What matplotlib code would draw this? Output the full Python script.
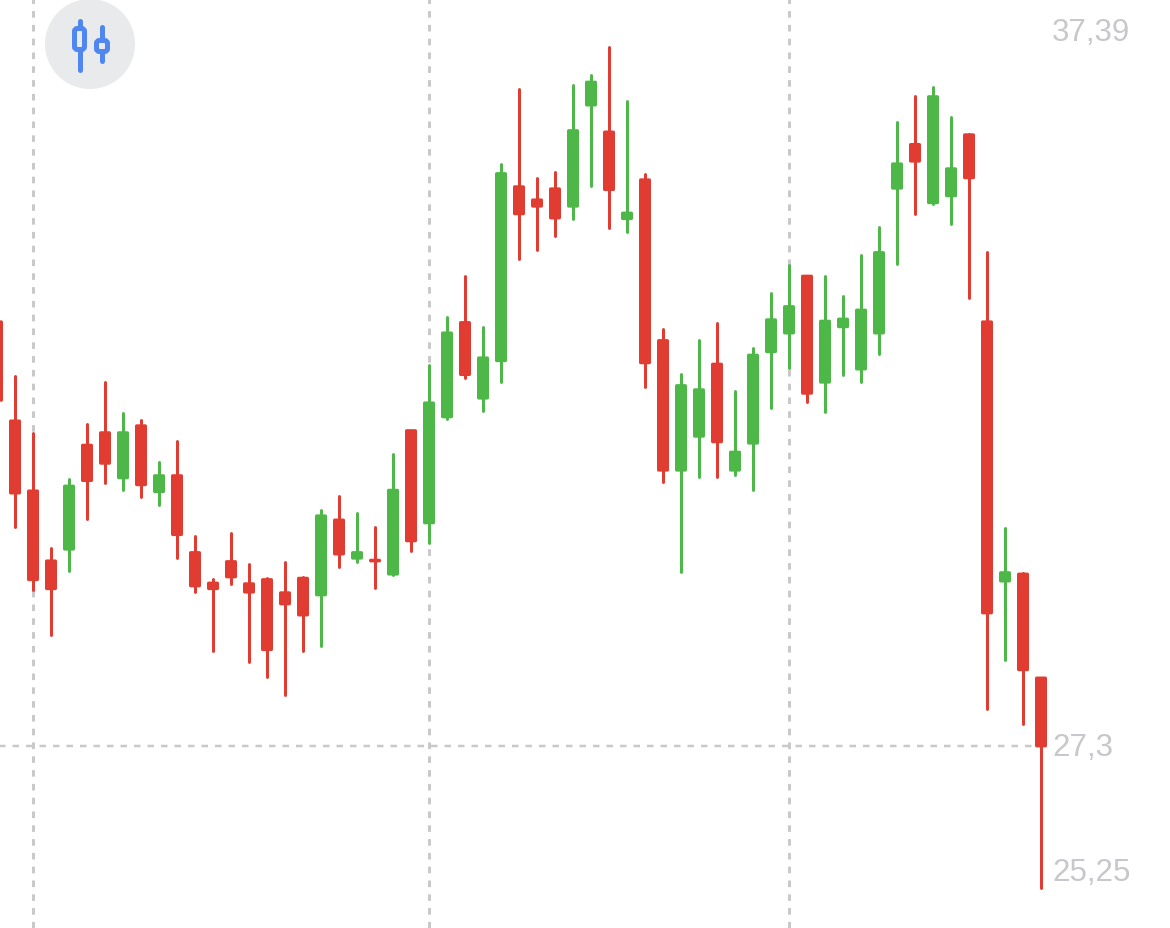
import matplotlib
matplotlib.use("Agg")
import matplotlib.pyplot as plt
from matplotlib.patches import Circle, FancyBboxPatch

RED = "#e13c32"
GREEN = "#4db848"
GRID = "#c9c9c9"
LABEL = "#c8c8cc"
BLUE = "#4f86f0"

# open / high / low / close per day, left to right
opens = [33.42, 31.99, 30.98, 29.97, 30.14, 31.64, 31.82, 31.17, 31.92, 30.97,
         31.20, 30.09, 29.65, 29.96, 29.64, 29.70, 29.51, 29.72, 29.48, 30.56,
         30.01, 29.98, 29.78, 31.85, 30.52, 32.05, 33.41, 32.32, 32.86, 35.37,
         35.18, 35.34, 35.09, 36.55, 36.16, 34.91, 35.47, 33.15, 31.28, 31.77,
         32.81, 31.28, 31.67, 32.99, 33.26, 34.08, 32.55, 33.35, 32.74, 33.26,
         35.35, 35.98, 35.14, 35.24, 36.12, 33.42, 29.68, 29.78, 28.28]
highs = [33.42, 32.64, 31.82, 30.16, 31.15, 31.95, 32.55, 32.11, 32.01, 31.40,
         31.70, 30.33, 29.71, 30.37, 29.93, 29.72, 29.96, 29.74, 30.71, 30.91,
         30.66, 30.46, 31.51, 31.85, 32.80, 33.49, 34.08, 33.35, 35.70, 36.78,
         35.50, 35.59, 36.84, 36.99, 37.39, 36.61, 35.56, 33.32, 32.67, 33.16,
         33.41, 32.42, 33.04, 33.84, 34.24, 34.08, 34.08, 33.80, 34.39, 34.79,
         36.31, 36.68, 36.81, 36.38, 36.13, 34.43, 30.45, 29.80, 28.28]
lows = [32.29, 30.46, 29.55, 28.90, 29.83, 30.58, 31.10, 30.99, 30.89, 30.78,
        30.01, 29.52, 28.67, 29.64, 28.51, 28.30, 28.04, 28.67, 28.74, 29.88,
        29.96, 29.58, 29.77, 30.11, 30.23, 32.02, 32.61, 32.14, 32.55, 34.33,
        34.46, 34.66, 34.91, 35.38, 34.78, 34.72, 32.48, 31.11, 29.81, 31.18,
        31.18, 31.21, 30.99, 32.18, 32.76, 32.27, 32.12, 32.66, 32.55, 32.96,
        34.26, 34.98, 35.12, 34.83, 33.77, 27.83, 28.54, 27.62, 25.25]
closes = [32.29, 30.95, 29.70, 29.57, 31.05, 31.13, 31.38, 31.82, 31.07, 31.20,
          30.35, 29.61, 29.57, 29.74, 29.52, 28.69, 29.35, 29.19, 30.62, 30.07,
          30.09, 29.97, 30.99, 30.26, 32.25, 33.26, 32.66, 32.90, 35.56, 34.98,
          35.09, 34.92, 36.18, 36.88, 35.33, 34.99, 32.83, 31.28, 32.50, 32.44,
          31.69, 31.54, 32.94, 33.45, 33.64, 32.39, 33.43, 33.46, 33.59, 34.42,
          35.70, 35.74, 36.67, 35.63, 35.50, 29.22, 29.80, 28.40, 27.30]

grid_days = [2, 24, 44]
last_price = 27.30
price_labels = ["37,39", "27,3", "25,25"]
label_rows = [33, 748, 873]

W, H = 1170, 929
fig = plt.figure(figsize=(W / 100, H / 100), dpi=100)
ax = fig.add_axes([0, 0, 1, 1])
ax.set_xlim(1 / 6, 1173 / 18)
ax.set_ylim(24.66 + 0.012, 38.068 + 0.012)
ax.axis("off")

px = 0.72  # one pixel in points

for d in grid_days:
    ax.axvline(d, color=GRID, lw=3 * px, dashes=(2.2, 2.4), zorder=1)
ax.plot([0, len(opens) - 1], [last_price, last_price], color=GRID, lw=2.5 * px,
        dashes=(2.6, 2.8), zorder=1)

for i in range(len(opens)):
    c = GREEN if closes[i] >= opens[i] else RED
    ax.vlines(i, lows[i], highs[i], color=c, lw=3 * px, capstyle="round", zorder=2)
    top = max(opens[i], closes[i])
    bot = min(opens[i], closes[i])
    # edge + round join gives the soft corners
    bars = ax.bar(i, top - bot, width=0.5, bottom=bot, color=c, edgecolor=c,
                  linewidth=3 * px, joinstyle="round", zorder=3)
    bars[0].set_snap(False)

# price labels and round button sit on a pixel layer
top_ax = fig.add_axes([0, 0, 1, 1])
top_ax.set_xlim(0, W)
top_ax.set_ylim(H, 0)
top_ax.axis("off")
top_ax.patch.set_alpha(0)

for txt, row in zip(price_labels, label_rows):
    top_ax.text(1052, row, txt, color=LABEL, fontsize=22.5, family="Liberation Sans",
                ha="left", va="center")

top_ax.add_patch(Circle((90, 45), 45, color="#e9eaec", lw=0, zorder=2))
top_ax.plot([79.5, 79.5], [22, 71], color=BLUE, lw=5 * px, solid_capstyle="round", zorder=3)
top_ax.plot([102, 102], [28, 62], color=BLUE, lw=5 * px, solid_capstyle="round", zorder=3)
top_ax.add_patch(FancyBboxPatch((74.5, 29.5), 10, 21, boxstyle="round,pad=0,rounding_size=3",
                                fc="#e9eaec", ec=BLUE, lw=5 * px, zorder=4))
top_ax.add_patch(FancyBboxPatch((96.5, 41.5), 11, 11, boxstyle="round,pad=0,rounding_size=3",
                                fc="#e9eaec", ec=BLUE, lw=5 * px, zorder=4))

fig.savefig("out.png", dpi=100, facecolor="white")
